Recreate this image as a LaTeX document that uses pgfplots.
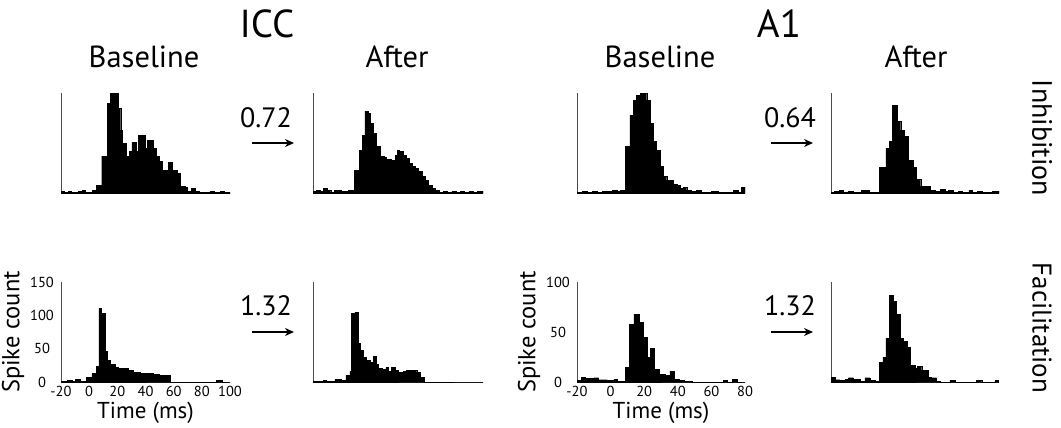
\documentclass[border=0pt]{standalone}
\usepackage{pgfplots}
\pgfplotsset{compat=1.18}
\usepackage{fontspec}
\setmainfont{PT Sans}
\usetikzlibrary{arrows.meta}
\pgfplotsset{
  hist/.style={scale only axis, axis lines=left,
    axis line style={-, black!70, line width=0.9pt},
    enlargelimits=false, ymin=0, major tick length=0pt,
    tick style={draw=none},
    tick label style={font=\fontsize{14.5}{16}\selectfont},
    yticklabel style={anchor=center, xshift=-19pt},
    xticklabel style={yshift=-1pt},
    /pgf/number format/assume math mode=true,
    xlabel style={font=\fontsize{23}{25}\selectfont, yshift=2pt},
    ylabel style={font=\fontsize{24.5}{26}\selectfont, yshift=-1pt}},
  notick/.style={xtick=\empty, ytick=\empty},
  bars/.style={const plot mark left, fill=black, draw=black, line width=0.4pt},
}
\begin{document}
\begin{tikzpicture}
\useasboundingbox (0,0) rectangle (1061pt,-428pt);

% ---------- ICC baseline, inhibition
\begin{axis}[hist, notick, at={(61pt,-193pt)}, anchor=south west,
  width=169pt, height=100pt, xmin=-20, xmax=100, ymax=100]
\addplot[bars] coordinates {(-20,2)(-17.5,1)(-15,2)(-12.5,1)(-10,1)(-7.5,2)(-5,3)(-2.5,1)(0,1)(2.5,3)(5,8)(8.9,37)(12.9,90)(14.8,100)(19.5,100)(20.7,85)(22.4,63)(23.8,50)(26.2,37)(28.5,42)(30.4,51)(33.3,42)(34.9,58)(39.7,45)(41.3,53)(45.6,45)(47.5,37)(49.8,32)(52.2,23)(56.2,31)(59.3,23)(62.2,20)(64.5,7)(68.1,6)(69.7,2)(72.8,5)(75.2,2)(78,1)(82,1)(86,2)(89,1)(93,2)(96,1)(100,1)} \closedcycle;
\end{axis}

% ---------- ICC after, inhibition
\begin{axis}[hist, notick, at={(313pt,-193pt)}, anchor=south west,
  width=170pt, height=100pt, xmin=-20, xmax=100, ymax=100]
\addplot[bars] coordinates {(-20,2)(-17.5,3)(-15,2)(-12.5,5)(-10,3)(-7.5,1)(-5,3)(-2.5,3)(0,2)(2.5,2)(5,3)(9.1,23)(12.6,43)(15,58)(16.7,82)(19,80)(20.7,70)(22.6,60)(24.5,47)(27.3,37)(30,36)(32,34)(35,33)(37.9,38)(39.5,43)(41,42)(43.5,38)(45.7,35)(48,30)(50,27)(52.1,25)(54.5,22)(56.8,17)(59.2,13)(61.5,8)(64,5)(66.3,3)(69,1)(72,2)(75,1)(78,2)(81,1)(84,2)(87,1)(90,2)(93,1)(96,2)(100,2)} \closedcycle;
\end{axis}

% ---------- A1 baseline, inhibition
\begin{axis}[hist, notick, at={(577pt,-193pt)}, anchor=south west,
  width=168pt, height=100pt, xmin=-20, xmax=80, ymax=100]
\addplot[bars] coordinates {(-20,1)(-17,2)(-14,1)(-11,2)(-8,1)(-5,2)(-2,2)(1,3)(4,2)(6,3)(8.6,47)(11.5,78)(13.5,93)(15.5,98)(17.5,100)(21.5,93)(23.5,70)(25.5,52)(27.4,43)(29.4,27)(31.4,17)(33.4,13)(37.4,9)(39.4,8)(41.3,5)(43.3,6)(45.3,3)(48,2)(51,3)(54,1)(57,1)(60,2)(64,1)(67,1)(70,1)(73,3)(76,1)(78,6)(80,6)} \closedcycle;
\end{axis}

% ---------- A1 after, inhibition
\begin{axis}[hist, notick, at={(831pt,-193pt)}, anchor=south west,
  width=168pt, height=100pt, xmin=-20, xmax=80, ymax=100]
\addplot[bars] coordinates {(-20,1)(-18,2)(-15,3)(-13,1)(-10,2)(-7,1)(-4,1)(-2,3)(1,3)(3,1)(6,1)(8.8,26)(12.7,45)(14.7,52)(16.7,88)(19.5,72)(21.5,63)(23.5,57)(26,33)(29,26)(30.6,14)(33.4,7)(37,7)(39,3)(42,2)(45,4)(48,2)(50,3)(53,1)(56,2)(58,1)(62,3)(64,1)(67,2)(70,1)(73,1)(76,2)(80,2)} \closedcycle;
\end{axis}

% ---------- ICC baseline, facilitation
\begin{axis}[hist, at={(61pt,-382pt)}, anchor=south west,
  width=169pt, height=100pt, xmin=-20, xmax=100, ymax=150,
  xtick={-20,0,20,40,60,80,100}, ytick={0,50,100,150},
  xlabel={Time (ms)}, ylabel={Spike count}]
\addplot[bars] coordinates {(-20,1.5)(-15.7,2.5)(-12.2,0.5)(-9.9,3.5)(-6.4,0.5)(-5.1,1.5)(-2,6.5)(2,12.5)(5,23.5)(6.9,111)(8.6,103)(11.4,46)(13,33)(15,26)(18.5,22)(20.9,21)(27.9,18)(31.5,15)(36.2,13)(45.7,11)(49.9,10)(57.5,0)(90.5,2)(94.8,0)(100,0)} \closedcycle;
\end{axis}

% ---------- ICC after, facilitation
\begin{axis}[hist, notick, at={(313pt,-382pt)}, anchor=south west,
  width=170pt, height=100pt, xmin=-20, xmax=100, ymax=150]
\addplot[bars] coordinates {(-20,1.5)(-12.9,2.5)(-10.6,1.5)(-4.6,4)(0.1,2.5)(3.2,10)(6,16)(7.2,103)(9.6,105)(11.9,58)(13.6,48)(15.5,37)(17.4,32)(20.2,30)(22.6,39)(24.5,26)(26.1,21)(28.5,19)(31.5,22)(33.2,16)(35.5,22)(37.9,17)(40.3,14)(43.8,16)(46.1,18)(53.2,15)(55.5,7)(58.4,0)(100,0)} \closedcycle;
\end{axis}

% ---------- A1 baseline, facilitation
\begin{axis}[hist, at={(577pt,-382pt)}, anchor=south west,
  width=168pt, height=100pt, xmin=-20, xmax=80, ymax=100,
  xtick={-20,0,20,40,60,80}, ytick={0,50,100},
  xlabel={Time (ms)}, ylabel={Spike count}]
\addplot[bars] coordinates {(-20,1.7)(-17.6,5)(-15,4)(-10,4.3)(-7.1,2.3)(-2.1,1.7)(1.9,2.7)(3.9,1)(8.8,15)(11.2,58)(13.8,68)(16.8,60)(19.2,45)(21.7,25)(23.7,34)(26.1,13)(28.7,8)(32.7,7)(35.3,11)(37.7,3)(40.6,1.7)(43.6,1)(48.6,0)(67,2)(69.5,0)(72.5,3)(75.5,0)(80,0)} \closedcycle;
\end{axis}

% ---------- A1 after, facilitation
\begin{axis}[hist, notick, at={(831pt,-382pt)}, anchor=south west,
  width=168pt, height=100pt, xmin=-20, xmax=80, ymax=100]
\addplot[bars] coordinates {(-20,5)(-17.6,2.3)(-14.6,1.7)(-11.7,2.6)(-9.7,4.3)(-6.7,2.6)(-2.7,1)(0.2,4.3)(3.2,1.7)(6.2,1)(8.8,20)(10.8,25)(12.7,44)(14.7,87)(17.1,81)(19.1,68)(21,44)(23,41)(25.4,35)(27.4,17)(30,14)(31.4,16)(34,12)(37.9,5)(39.9,4.3)(42.9,1)(44.9,0)(50.8,1.6)(53.8,0)(66.7,1.6)(69.7,0)(77.6,1.6)(79.6,0)(80,0)} \closedcycle;
\end{axis}

% ---------- titles and annotations
\node[anchor=base, font=\fontsize{39}{42}\selectfont] at (267pt,-38pt) {ICC};
\node[anchor=base, font=\fontsize{39}{42}\selectfont] at (779pt,-38pt) {A1};
\node[anchor=base, font=\fontsize{30.5}{33}\selectfont] at (144pt,-68pt) {Baseline};
\node[anchor=base, font=\fontsize{30.5}{33}\selectfont] at (397pt,-68pt) {After};
\node[anchor=base, font=\fontsize{30.5}{33}\selectfont] at (660pt,-68pt) {Baseline};
\node[anchor=base, font=\fontsize{30.5}{33}\selectfont] at (916pt,-68pt) {After};

\node[anchor=base, font=\fontsize{28}{30}\selectfont] at (266pt,-128pt) {0.72};
\node[anchor=base, font=\fontsize{28}{30}\selectfont] at (790pt,-128pt) {0.64};
\node[anchor=base, font=\fontsize{28}{30}\selectfont] at (266pt,-315pt) {1.32};
\node[anchor=base, font=\fontsize{28}{30}\selectfont] at (790pt,-315pt) {1.32};
\draw[line width=1.4pt, -{Stealth[length=9pt,width=8pt]}] (252pt,-143pt) -- (294pt,-143pt);
\draw[line width=1.4pt, -{Stealth[length=9pt,width=8pt]}] (771pt,-143pt) -- (813pt,-143pt);
\draw[line width=1.4pt, -{Stealth[length=9pt,width=8pt]}] (252pt,-332pt) -- (294pt,-332pt);
\draw[line width=1.4pt, -{Stealth[length=9pt,width=8pt]}] (771pt,-332pt) -- (813pt,-332pt);

\node[rotate=-90, font=\fontsize{28}{30}\selectfont] at (1042pt,-138pt) {Inhibition};
\node[rotate=-90, font=\fontsize{27}{29}\selectfont] at (1042pt,-328pt) {Facilitation};
\end{tikzpicture}
\end{document}
